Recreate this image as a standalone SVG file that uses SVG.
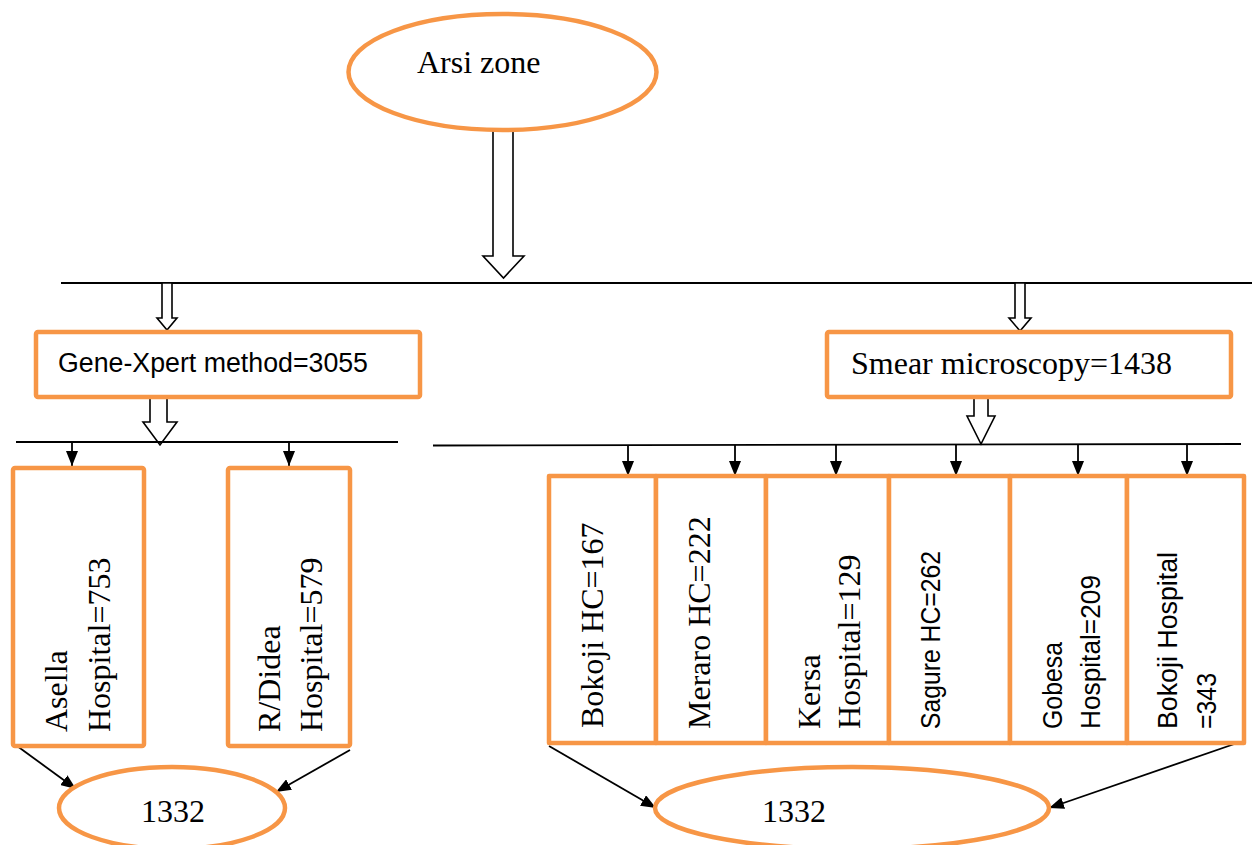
<svg xmlns="http://www.w3.org/2000/svg" width="1252" height="845" viewBox="0 0 1252 845">
<defs>
<style>
.box{fill:#fff;stroke:#F79646;stroke-width:4.5;stroke-linejoin:round}
.ell{fill:#fff;stroke:#F79646;stroke-width:4.5}
.blk{fill:#fff;stroke:#000;stroke-width:1.6;stroke-linejoin:miter}
.ln{stroke:#000;stroke-width:1.8;fill:none}
.ar{stroke:#000;stroke-width:1.8;fill:none;marker-end:url(#ah)}
.tm{font-family:"Liberation Serif","Times New Roman",serif;font-size:32px;fill:#000}
.sn{font-family:"Liberation Sans",Arial,sans-serif;font-size:27px;fill:#000}
</style>
<marker id="ah" viewBox="0 0 15 12" refX="15" refY="6" markerWidth="15" markerHeight="12" markerUnits="userSpaceOnUse" orient="auto">
<path d="M0,0 L15,6 L0,12 Z" fill="#000"/>
</marker>
</defs>
<rect width="1252" height="845" fill="#fff"/>

<g id="connectors">
<polygon class="blk" points="493,130 513,130 513,256 524,256 503.5,278 483,256 493,256"/>
<line class="ln" x1="61" y1="283" x2="1252" y2="283"/>
<polygon class="blk" points="162,283 172,283 172,318 177,318 167,330 157,318 162,318"/>
<polygon class="blk" points="1015,283 1025,283 1025,318 1031,318 1020,331 1009,318 1015,318"/>
<polygon class="blk" points="150,397 167,397 167,422 177,422 160,445 143,422 150,422"/>
<line class="ln" x1="16" y1="442" x2="398" y2="442"/>
<line class="ar" x1="72" y1="442" x2="72" y2="466"/>
<line class="ar" x1="289" y1="442" x2="289" y2="466"/>
<polygon class="blk" points="974,397 988,397 988,416 995,416 981,444 967,416 974,416"/>
<line class="ln" x1="433" y1="445.5" x2="1241" y2="444"/>
<line class="ar" x1="628" y1="445" x2="628" y2="476"/>
<line class="ar" x1="735" y1="445" x2="735" y2="476"/>
<line class="ar" x1="836" y1="445" x2="836" y2="476"/>
<line class="ar" x1="956" y1="445" x2="956" y2="476"/>
<line class="ar" x1="1078" y1="445" x2="1078" y2="476"/>
<line class="ar" x1="1187" y1="445" x2="1187" y2="476"/>
<line class="ar" x1="13" y1="743" x2="76" y2="789"/>
<line class="ar" x1="350" y1="750" x2="276" y2="792"/>
<line class="ar" x1="549" y1="746" x2="656" y2="808"/>
<line class="ar" x1="1243" y1="741" x2="1049" y2="808"/>
</g>

<g id="arsi">
<ellipse class="ell" cx="502.5" cy="72" rx="154" ry="58"/>
<text class="tm" x="417" y="73">Arsi zone</text>
</g>

<g id="genexpert">
<rect class="box" x="36" y="332" width="384" height="65" rx="2"/>
<text class="sn" x="58" y="372" font-size="26" textLength="310" lengthAdjust="spacingAndGlyphs">Gene-Xpert method=3055</text>
</g>

<g id="smear">
<rect class="box" x="827" y="332" width="404" height="65" rx="2"/>
<text class="tm" x="851" y="374">Smear microscopy=1438</text>
</g>

<g id="asella">
<rect class="box" x="13" y="468" width="131" height="278" rx="2"/>
<text class="tm" transform="translate(67,732) rotate(-90)">Asella</text>
<text class="tm" transform="translate(110,732) rotate(-90)">Hospital=753</text>
</g>

<g id="rdidea">
<rect class="box" x="228" y="468" width="122" height="278" rx="2"/>
<text class="tm" transform="translate(280,732) rotate(-90)">R/Didea</text>
<text class="tm" transform="translate(322,732) rotate(-90)">Hospital=579</text>
</g>

<g id="bokoji-hc">
<rect class="box" x="549" y="476" width="107" height="267"/>
<text class="tm" transform="translate(603,728) rotate(-90)">Bokoji HC=167</text>
</g>
<g id="meraro-hc">
<rect class="box" x="656" y="476" width="110" height="267"/>
<text class="tm" transform="translate(710,729) rotate(-90)">Meraro HC=222</text>
</g>
<g id="kersa">
<rect class="box" x="766" y="476" width="123" height="267"/>
<text class="tm" transform="translate(820,729) rotate(-90)">Kersa</text>
<text class="tm" transform="translate(860,729) rotate(-90)">Hospital=129</text>
</g>
<g id="sagure-hc">
<rect class="box" x="889" y="476" width="121" height="267"/>
<text class="sn" transform="translate(940,729) rotate(-90)" textLength="178" lengthAdjust="spacingAndGlyphs">Sagure HC=262</text>
</g>
<g id="gobesa">
<rect class="box" x="1010" y="476" width="117" height="267"/>
<text class="sn" transform="translate(1062,729) rotate(-90)" textLength="87" lengthAdjust="spacingAndGlyphs">Gobesa</text>
<text class="sn" transform="translate(1100,729) rotate(-90)" textLength="154" lengthAdjust="spacingAndGlyphs">Hospital=209</text>
</g>
<g id="bokoji-hosp">
<rect class="box" x="1127" y="476" width="117" height="267"/>
<text class="sn" transform="translate(1177,729) rotate(-90)" textLength="177" lengthAdjust="spacingAndGlyphs">Bokoji Hospital</text>
<text class="sn" transform="translate(1216,729) rotate(-90)" textLength="56" lengthAdjust="spacingAndGlyphs">=343</text>
</g>

<g id="total-left">
<ellipse class="ell" cx="172" cy="808" rx="113" ry="41"/>
<text class="tm" x="141" y="822" font-size="30">1332</text>
</g>
<g id="total-right">
<ellipse class="ell" cx="852" cy="808" rx="197" ry="41"/>
<text class="tm" x="762" y="822" font-size="30">1332</text>
</g>
</svg>
